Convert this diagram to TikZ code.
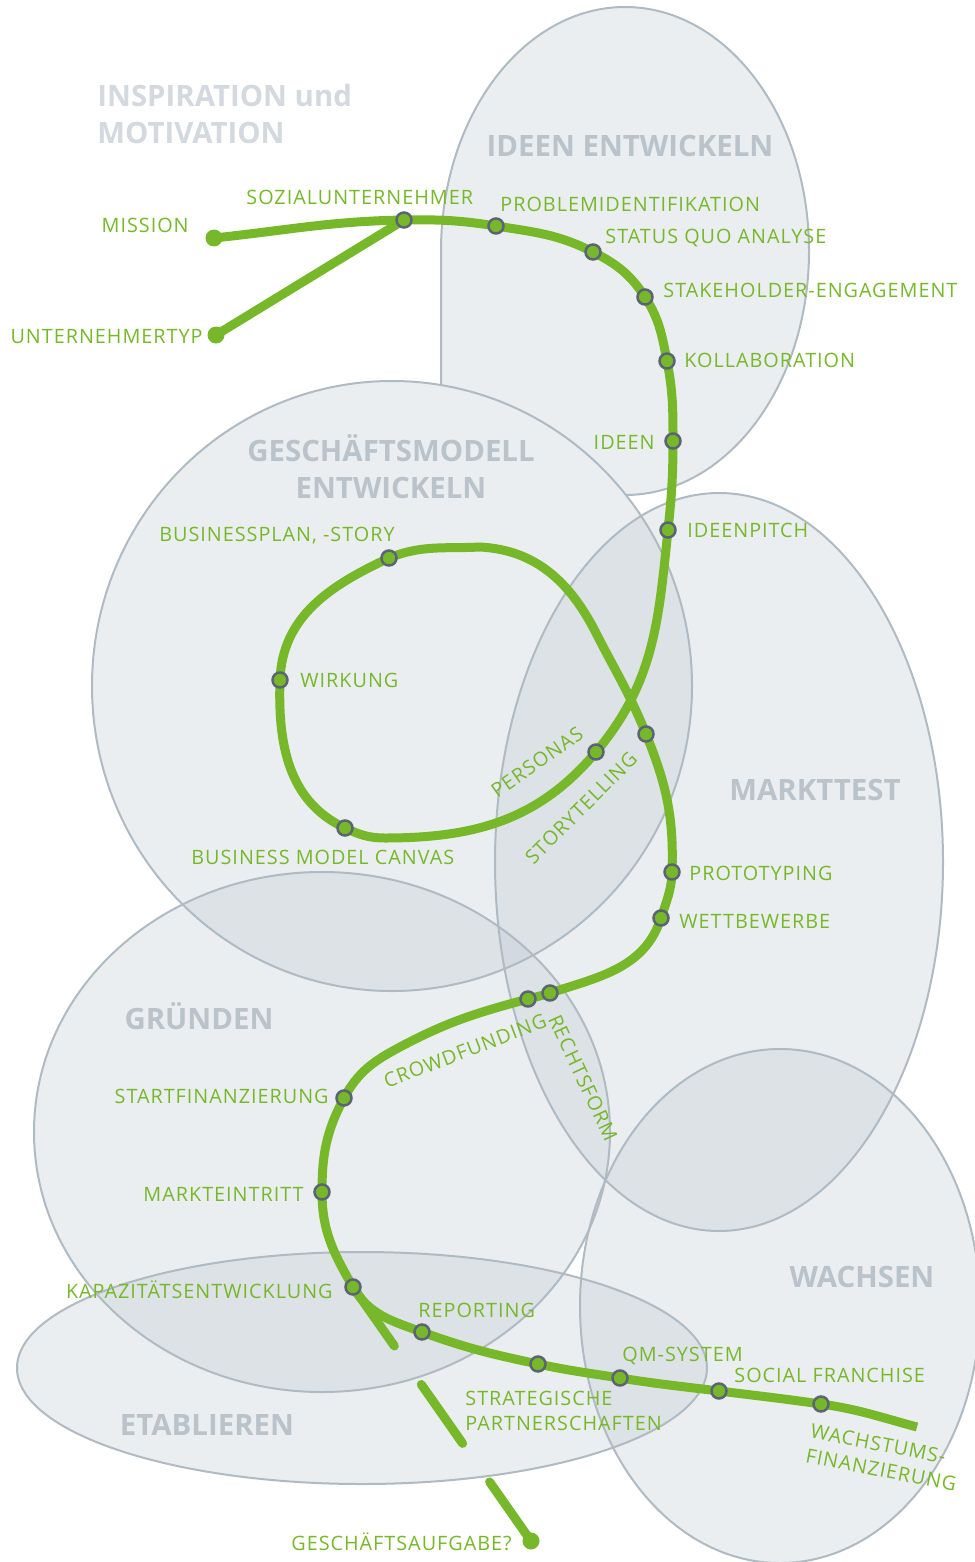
\documentclass[tikz,border=0pt]{standalone}
\usepackage{fontspec}
\setmainfont{Open Sans}
\newfontfamily\lblfont{Open Sans}[LetterSpace=5]

\definecolor{zonefill}{HTML}{BCC6D0}
\definecolor{zoneline}{HTML}{B0BAC2}
\definecolor{routegreen}{HTML}{76B82A}
\definecolor{stopgrey}{HTML}{5B6472}
\definecolor{headgrey}{HTML}{BAC3C9}
\definecolor{headlight}{HTML}{D3D9DE}

\begin{document}
\begin{tikzpicture}[x=0.5pt, y=0.5pt,
  zone/.style={fill=zonefill, fill opacity=0.3},
  rim/.style={draw=zoneline, line width=1pt},
  route/.style={draw=routegreen, line width=4.5pt},
  stop/.style={circle, draw=stopgrey, fill=routegreen, line width=1.25pt, minimum size=7.5pt, inner sep=0pt},
  terminal/.style={circle, fill=routegreen, minimum size=8.5pt, inner sep=0pt},
  lbl/.style={font=\lblfont\fontsize{9.9}{12.5}\selectfont, text=routegreen, inner sep=0pt, text height=7.1pt, text depth=0pt},
  zonetitle/.style={font=\bfseries\fontsize{14.7}{18.5}\selectfont, text=headgrey, inner sep=0pt}]
  \useasboundingbox (0,0) rectangle (974,-1562);

  % zones
  \path[zone] (441,-385) -- (441,-251) arc[start angle=180, end angle=-90, x radius=184, y radius=244]
    arc[start angle=39, end angle=80.6, x radius=300, y radius=305] -- cycle;
  \foreach \cx/\cy/\rx/\ry in {392/-686/300/305, 719/-862/224/369, 322/-1132/288/260, 780/-1306/200/257, 362/-1368/345/116}
    \path[zone] (\cx,\cy) ellipse[x radius=\rx, y radius=\ry];
  \path[rim] (441,-385) -- (441,-251) arc[start angle=180, end angle=-90, x radius=184, y radius=244];
  \foreach \cx/\cy/\rx/\ry in {392/-686/300/305, 719/-862/224/369, 322/-1132/288/260, 780/-1306/200/257, 362/-1368/345/116}
    \path[rim] (\cx,\cy) ellipse[x radius=\rx, y radius=\ry];

  % zone titles
  \node[zonetitle, text=headlight, align=left, anchor=north west] (inspiration) at (97,-84) {INSPIRATION und\\MOTIVATION};
  \node[zonetitle, text height=10.5pt, text depth=0pt] (ideen title) at (630,-146) {IDEEN ENTWICKELN};
  \node[zonetitle, align=center, anchor=north] (modell title) at (391,-434) {GESCHÄFTSMODELL\\ENTWICKELN};
  \node[zonetitle, text height=10.5pt, text depth=0pt] (markt title) at (815,-790) {MARKTTEST};
  \node[zonetitle, text height=10.5pt, text depth=0pt] (gruenden title) at (199,-1019) {GRÜNDEN};
  \node[zonetitle, text height=10.5pt, text depth=0pt] (wachsen title) at (862,-1277) {WACHSEN};
  \node[zonetitle, text height=10.5pt, text depth=0pt] (etablieren title) at (207,-1425) {ETABLIEREN};

  % stations
  \coordinate (mission) at (214,-238);
  \coordinate (untyp) at (216,-335);
  \coordinate (sozial) at (404,-220);
  \coordinate (problem) at (496,-226);
  \coordinate (status) at (593,-252);
  \coordinate (stake) at (645,-297);
  \coordinate (kollab) at (667,-361);
  \coordinate (ideen) at (673,-441);
  \coordinate (pitch) at (668,-530);
  \coordinate (personas) at (596,-752);
  \coordinate (bend1) at (385,-838);
  \coordinate (bmc) at (345,-828);
  \coordinate (wirkung) at (280,-680);
  \coordinate (bplan) at (389,-558);
  \coordinate (crest) at (480,-547);
  \coordinate (bend2) at (596,-633);
  \coordinate (story) at (646,-734);
  \coordinate (proto) at (672,-872);
  \coordinate (wett) at (661,-918);
  \coordinate (rechts) at (550,-993);
  \coordinate (crowd) at (528,-999);
  \coordinate (bend3) at (400,-1047);
  \coordinate (start) at (344,-1098);
  \coordinate (markt) at (322,-1192);
  \coordinate (kapaz) at (353,-1287);
  \coordinate (report) at (422,-1332);
  \coordinate (partner) at (538,-1364);
  \coordinate (qm) at (620,-1378);
  \coordinate (social) at (719,-1391);
  \coordinate (wachst) at (821,-1404);
  \coordinate (finish) at (917,-1427);
  \coordinate (aufgabe) at (531,-1541);

  % route
  \draw[route] (mission) to[out=6,in=181] (sozial) to[out=1,in=171] (problem)
    to[out=-9,in=153] (status) to[out=-27,in=123] (stake) to[out=-57,in=101] (kollab)
    to[out=-79,in=90] (ideen) to[out=-90,in=84] (pitch) to[out=-96,in=50] (personas)
    to[out=-130,in=0] (bend1) to[out=180,in=-25] (bmc) to[out=155,in=-92] (wirkung)
    to[out=88,in=205] (bplan) to[out=22,in=183] (crest) to[out=-3,in=117] (bend2)
    to[out=-63,in=112] (story) to[out=-68,in=88] (proto) to[out=-92,in=72] (wett)
    to[out=-108,in=18] (rechts) to[out=-162,in=15] (crowd) to[out=-165,in=28] (bend3)
    to[out=-152,in=62] (start) to[out=-118,in=90] (markt) to[out=-90,in=120] (kapaz)
    to[out=-60,in=160] (report) to[out=-20,in=168] (partner) to[out=-12,in=171] (qm)
    to[out=-9,in=173] (social) to[out=-7,in=172] (wachst) to[out=-8,in=165] (finish);
  \draw[route, line cap=round] (untyp) -- (sozial);
  \draw[route, line cap=round, dash pattern=on 36pt off 23.5pt] (kapaz) -- (aufgabe);

  \foreach \s in {sozial,problem,status,stake,kollab,ideen,pitch,personas,bmc,wirkung,bplan,story,proto,wett,rechts,crowd,start,markt,kapaz,report,partner,qm,social,wachst}
    \node[stop] (\s stop) at (\s) {};
  \foreach \s in {mission,untyp,aufgabe}
    \node[terminal] (\s end) at (\s) {};

  % labels
  \node[lbl, anchor=east] (mission label) at (189,-225) {MISSION};
  \node[lbl, anchor=west] (sozial label) at (246,-197) {SOZIALUNTERNEHMER};
  \node[lbl, anchor=east] (untyp label) at (203,-336) {UNTERNEHMERTYP};
  \node[lbl, anchor=west] (problem label) at (500,-204) {PROBLEMIDENTIFIKATION};
  \node[lbl, anchor=west] (status label) at (605,-236) {STATUS QUO ANALYSE};
  \node[lbl, anchor=west] (stake label) at (663,-290) {STAKEHOLDER-ENGAGEMENT};
  \node[lbl, anchor=west] (kollab label) at (684,-360) {KOLLABORATION};
  \node[lbl, anchor=east] (ideen label) at (655,-442) {IDEEN};
  \node[lbl, anchor=west] (pitch label) at (687,-530) {IDEENPITCH};
  \node[lbl, anchor=east] (bplan label) at (395,-534) {BUSINESSPLAN, -STORY};
  \node[lbl, anchor=west] (wirkung label) at (300,-680) {WIRKUNG};
  \node[lbl, anchor=west] (bmc label) at (191,-857) {BUSINESS MODEL CANVAS};
  \node[lbl, rotate=35] (personas label) at (537,-762) {PERSONAS};
  \node[lbl, rotate=45] (story label) at (581,-808) {STORYTELLING};
  \node[lbl, anchor=west] (proto label) at (689,-873) {PROTOTYPING};
  \node[lbl, anchor=west] (wett label) at (679,-921) {WETTBEWERBE};
  \node[lbl, rotate=21] (crowd label) at (465,-1051) {CROWDFUNDING};
  \node[lbl, rotate=-65] (rechts label) at (583,-1078) {RECHTSFORM};
  \node[lbl, anchor=east] (start label) at (329,-1096) {STARTFINANZIERUNG};
  \node[lbl, anchor=east] (markt label) at (304,-1194) {MARKTEINTRITT};
  \node[lbl, anchor=east] (kapaz label) at (333,-1291) {KAPAZITÄTSENTWICKLUNG};
  \node[lbl, anchor=west] (report label) at (418,-1310) {REPORTING};
  \node[lbl, anchor=north west, align=left, text height=, text depth=] (partner label) at (465,-1391) {STRATEGISCHE\\PARTNERSCHAFTEN};
  \node[lbl, anchor=west] (qm label) at (622,-1354) {QM-SYSTEM};
  \node[lbl, anchor=west] (social label) at (734,-1375) {SOCIAL FRANCHISE};
  \node[lbl, anchor=north west, align=left, rotate=-11, text height=, text depth=] (wachst label) at (812,-1423) {WACHSTUMS-\\FINANZIERUNG};
  \node[lbl, anchor=east] (aufgabe label) at (512,-1543) {GESCHÄFTSAUFGABE?};
\end{tikzpicture}
\end{document}
